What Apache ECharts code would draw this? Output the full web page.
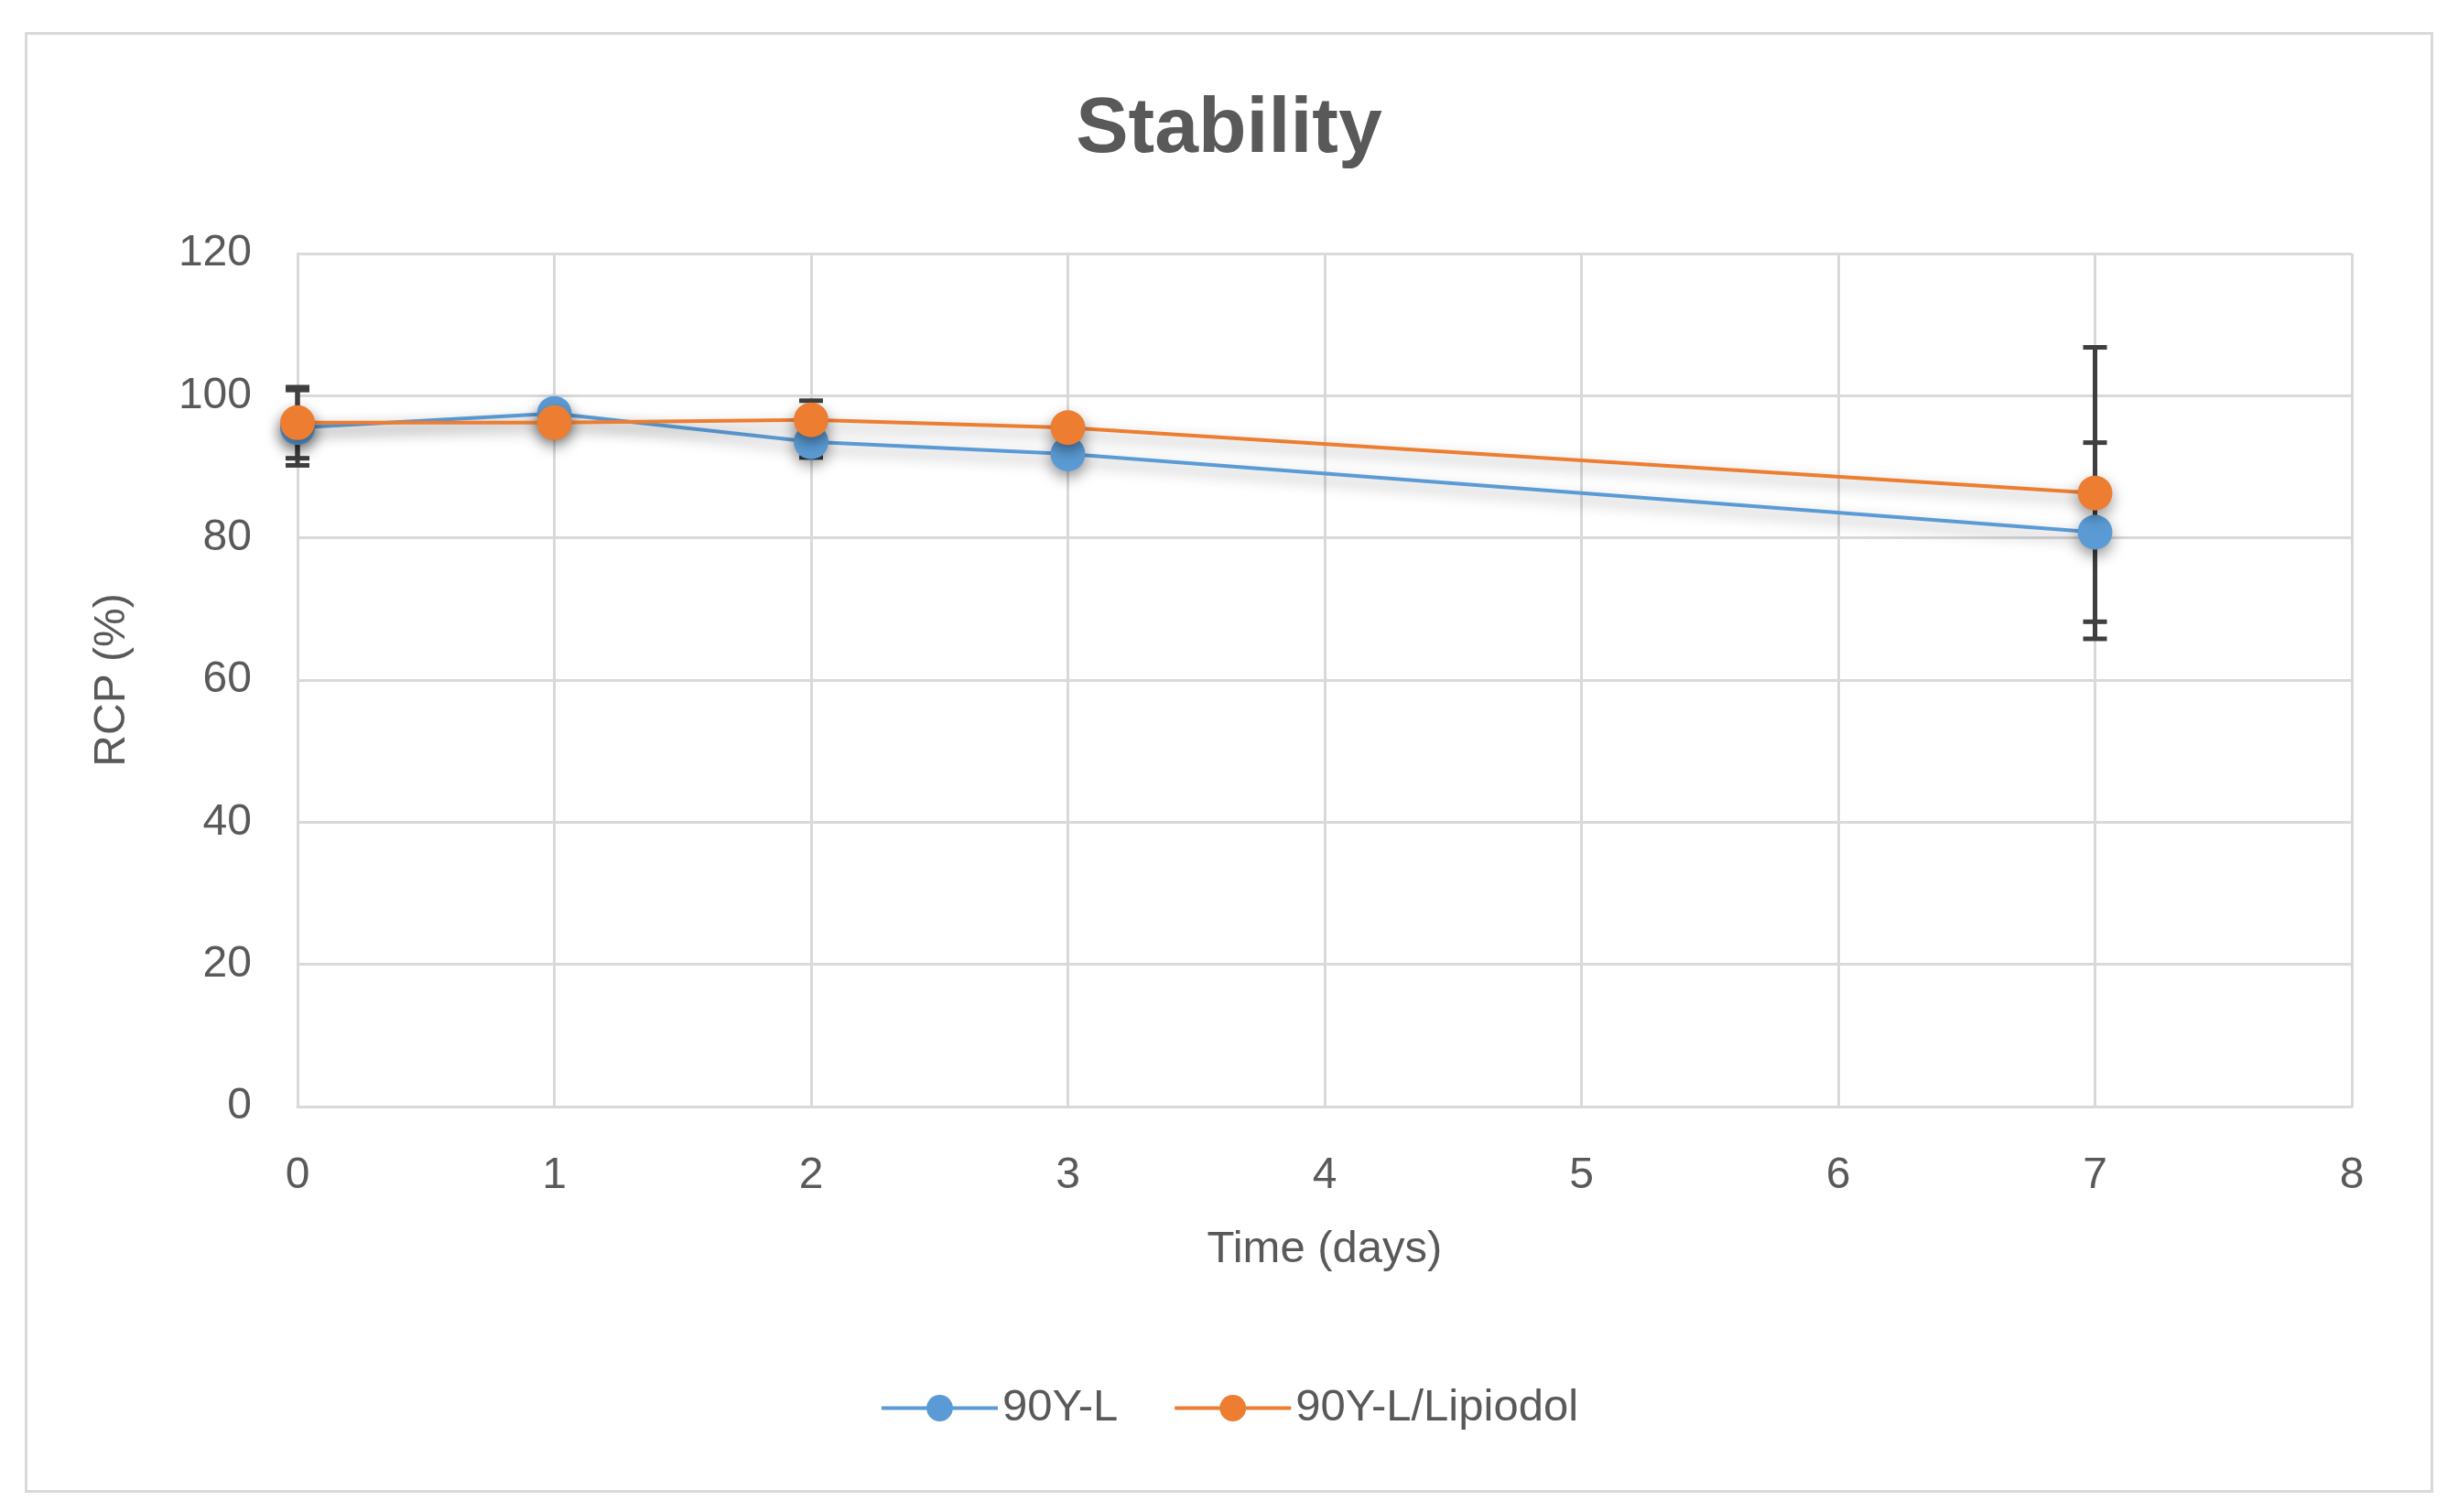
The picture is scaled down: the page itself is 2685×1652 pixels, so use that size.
<!DOCTYPE html>
<html>
<head>
<meta charset="utf-8">
<script src="https://cdn.jsdelivr.net/npm/echarts@6/dist/echarts.min.js"></script>
<style>
html,body{margin:0;padding:0;background:#fff;}
#c{width:2685px;height:1652px;}
</style>
</head>
<body>
<div id="c"></div>
<script>
var days = [0, 1, 2, 3, 7];
var blueValues = [95.5, 97.5, 93.5, 91.8, 80.8];
var orangeValues = [96.2, 96.2, 96.6, 95.5, 86.3];
var blueErr = [5.3, 1.0, 2.2, 1.0, 12.6];
var orangeErr = [5.0, 1.0, 2.7, 1.0, 20.5];
var xTicks = [0, 1, 2, 3, 4, 5, 6, 7, 8];
var yTicks = [0, 20, 40, 60, 80, 100, 120];
var seriesNames = ['90Y-L', '90Y-L/Lipiodol'];

var FONT = '"Liberation Sans Narrow", "Liberation Sans", Arial, sans-serif';
var chart = echarts.init(document.getElementById('c'));

function pairs(xs, ys) { return xs.map(function (x, i) { return [x, ys[i]]; }); }
function errData(xs, ys, es) { return xs.map(function (x, i) { return [x, ys[i] - es[i], ys[i] + es[i]]; }); }

function errRender(params, api) {
  var x = api.value(0);
  var lo = api.coord([x, api.value(1)]);
  var hi = api.coord([x, api.value(2)]);
  var hw = 13;
  var st = { stroke: '#3f3f3f', lineWidth: 5 };
  return {
    type: 'group',
    children: [
      { type: 'line', shape: { x1: lo[0], y1: lo[1], x2: hi[0], y2: hi[1] }, style: st },
      { type: 'line', shape: { x1: lo[0] - hw, y1: lo[1], x2: lo[0] + hw, y2: lo[1] }, style: st },
      { type: 'line', shape: { x1: hi[0] - hw, y1: hi[1], x2: hi[0] + hw, y2: hi[1] }, style: st }
    ]
  };
}

var lineShadow = { shadowBlur: 16, shadowColor: 'rgba(0,0,0,0.4)', shadowOffsetY: 7 };

chart.setOption({
  animation: false,
  backgroundColor: '#ffffff',
  graphic: [{
    type: 'rect', left: 26, top: 34, z: -10,
    shape: { width: 2628, height: 1593 },
    style: { fill: 'none', stroke: '#d9d9d9', lineWidth: 3 }
  }],
  title: {
    text: 'Stability', left: 'center', top: 94,
    textStyle: { fontFamily: FONT, fontSize: 86, fontWeight: 'bold', color: '#595959' }
  },
  legend: {
    data: seriesNames, bottom: 84, left: 'center',
    itemWidth: 127, itemHeight: 36, itemGap: 60,
    lineStyle: { width: 4 },
    textStyle: { fontFamily: FONT, fontSize: 49, color: '#595959' }
  },
  grid: { left: 325, right: 116, top: 277, bottom: 443 },
  xAxis: {
    type: 'value', min: 0, max: 8, interval: 1,
    name: 'Time (days)', nameLocation: 'middle', nameGap: 132,
    nameTextStyle: { fontFamily: FONT, fontSize: 49, color: '#595959' },
    axisLine: { lineStyle: { color: '#d9d9d9', width: 3 } },
    axisTick: { show: false },
    axisLabel: { margin: 52, fontFamily: FONT, fontSize: 48, color: '#595959',
      formatter: function (v) { return xTicks.indexOf(v) >= 0 ? String(v) : ''; } },
    splitLine: { show: true, lineStyle: { color: '#d9d9d9', width: 3 } }
  },
  yAxis: {
    type: 'value', min: 0, max: 120, interval: 20,
    name: 'RCP (%)', nameLocation: 'middle', nameGap: 178, nameRotate: 90,
    nameTextStyle: { fontFamily: FONT, fontSize: 48, color: '#595959' },
    axisLine: { show: true, lineStyle: { color: '#d9d9d9', width: 3 } },
    axisTick: { show: false },
    axisLabel: { margin: 50, fontFamily: FONT, fontSize: 48, color: '#595959',
      formatter: function (v) { return yTicks.indexOf(v) >= 0 ? String(v) : ''; } },
    splitLine: { show: true, lineStyle: { color: '#d9d9d9', width: 3 } }
  },
  series: [
    { type: 'custom', name: 'errBlue', renderItem: errRender, data: errData(days, blueValues, blueErr), z: 1, silent: true },
    { type: 'custom', name: 'errOrange', renderItem: errRender, data: errData(days, orangeValues, orangeErr), z: 1, silent: true },
    {
      type: 'line', name: seriesNames[0], data: pairs(days, blueValues), z: 3,
      symbol: 'circle', symbolSize: 38,
      lineStyle: Object.assign({ color: '#5B9BD5', width: 4 }, lineShadow),
      itemStyle: Object.assign({ color: '#5B9BD5' }, lineShadow)
    },
    {
      type: 'line', name: seriesNames[1], data: pairs(days, orangeValues), z: 4,
      symbol: 'circle', symbolSize: 38,
      lineStyle: Object.assign({ color: '#ED7D31', width: 4 }, lineShadow),
      itemStyle: Object.assign({ color: '#ED7D31' }, lineShadow)
    }
  ]
});
</script>
</body>
</html>
